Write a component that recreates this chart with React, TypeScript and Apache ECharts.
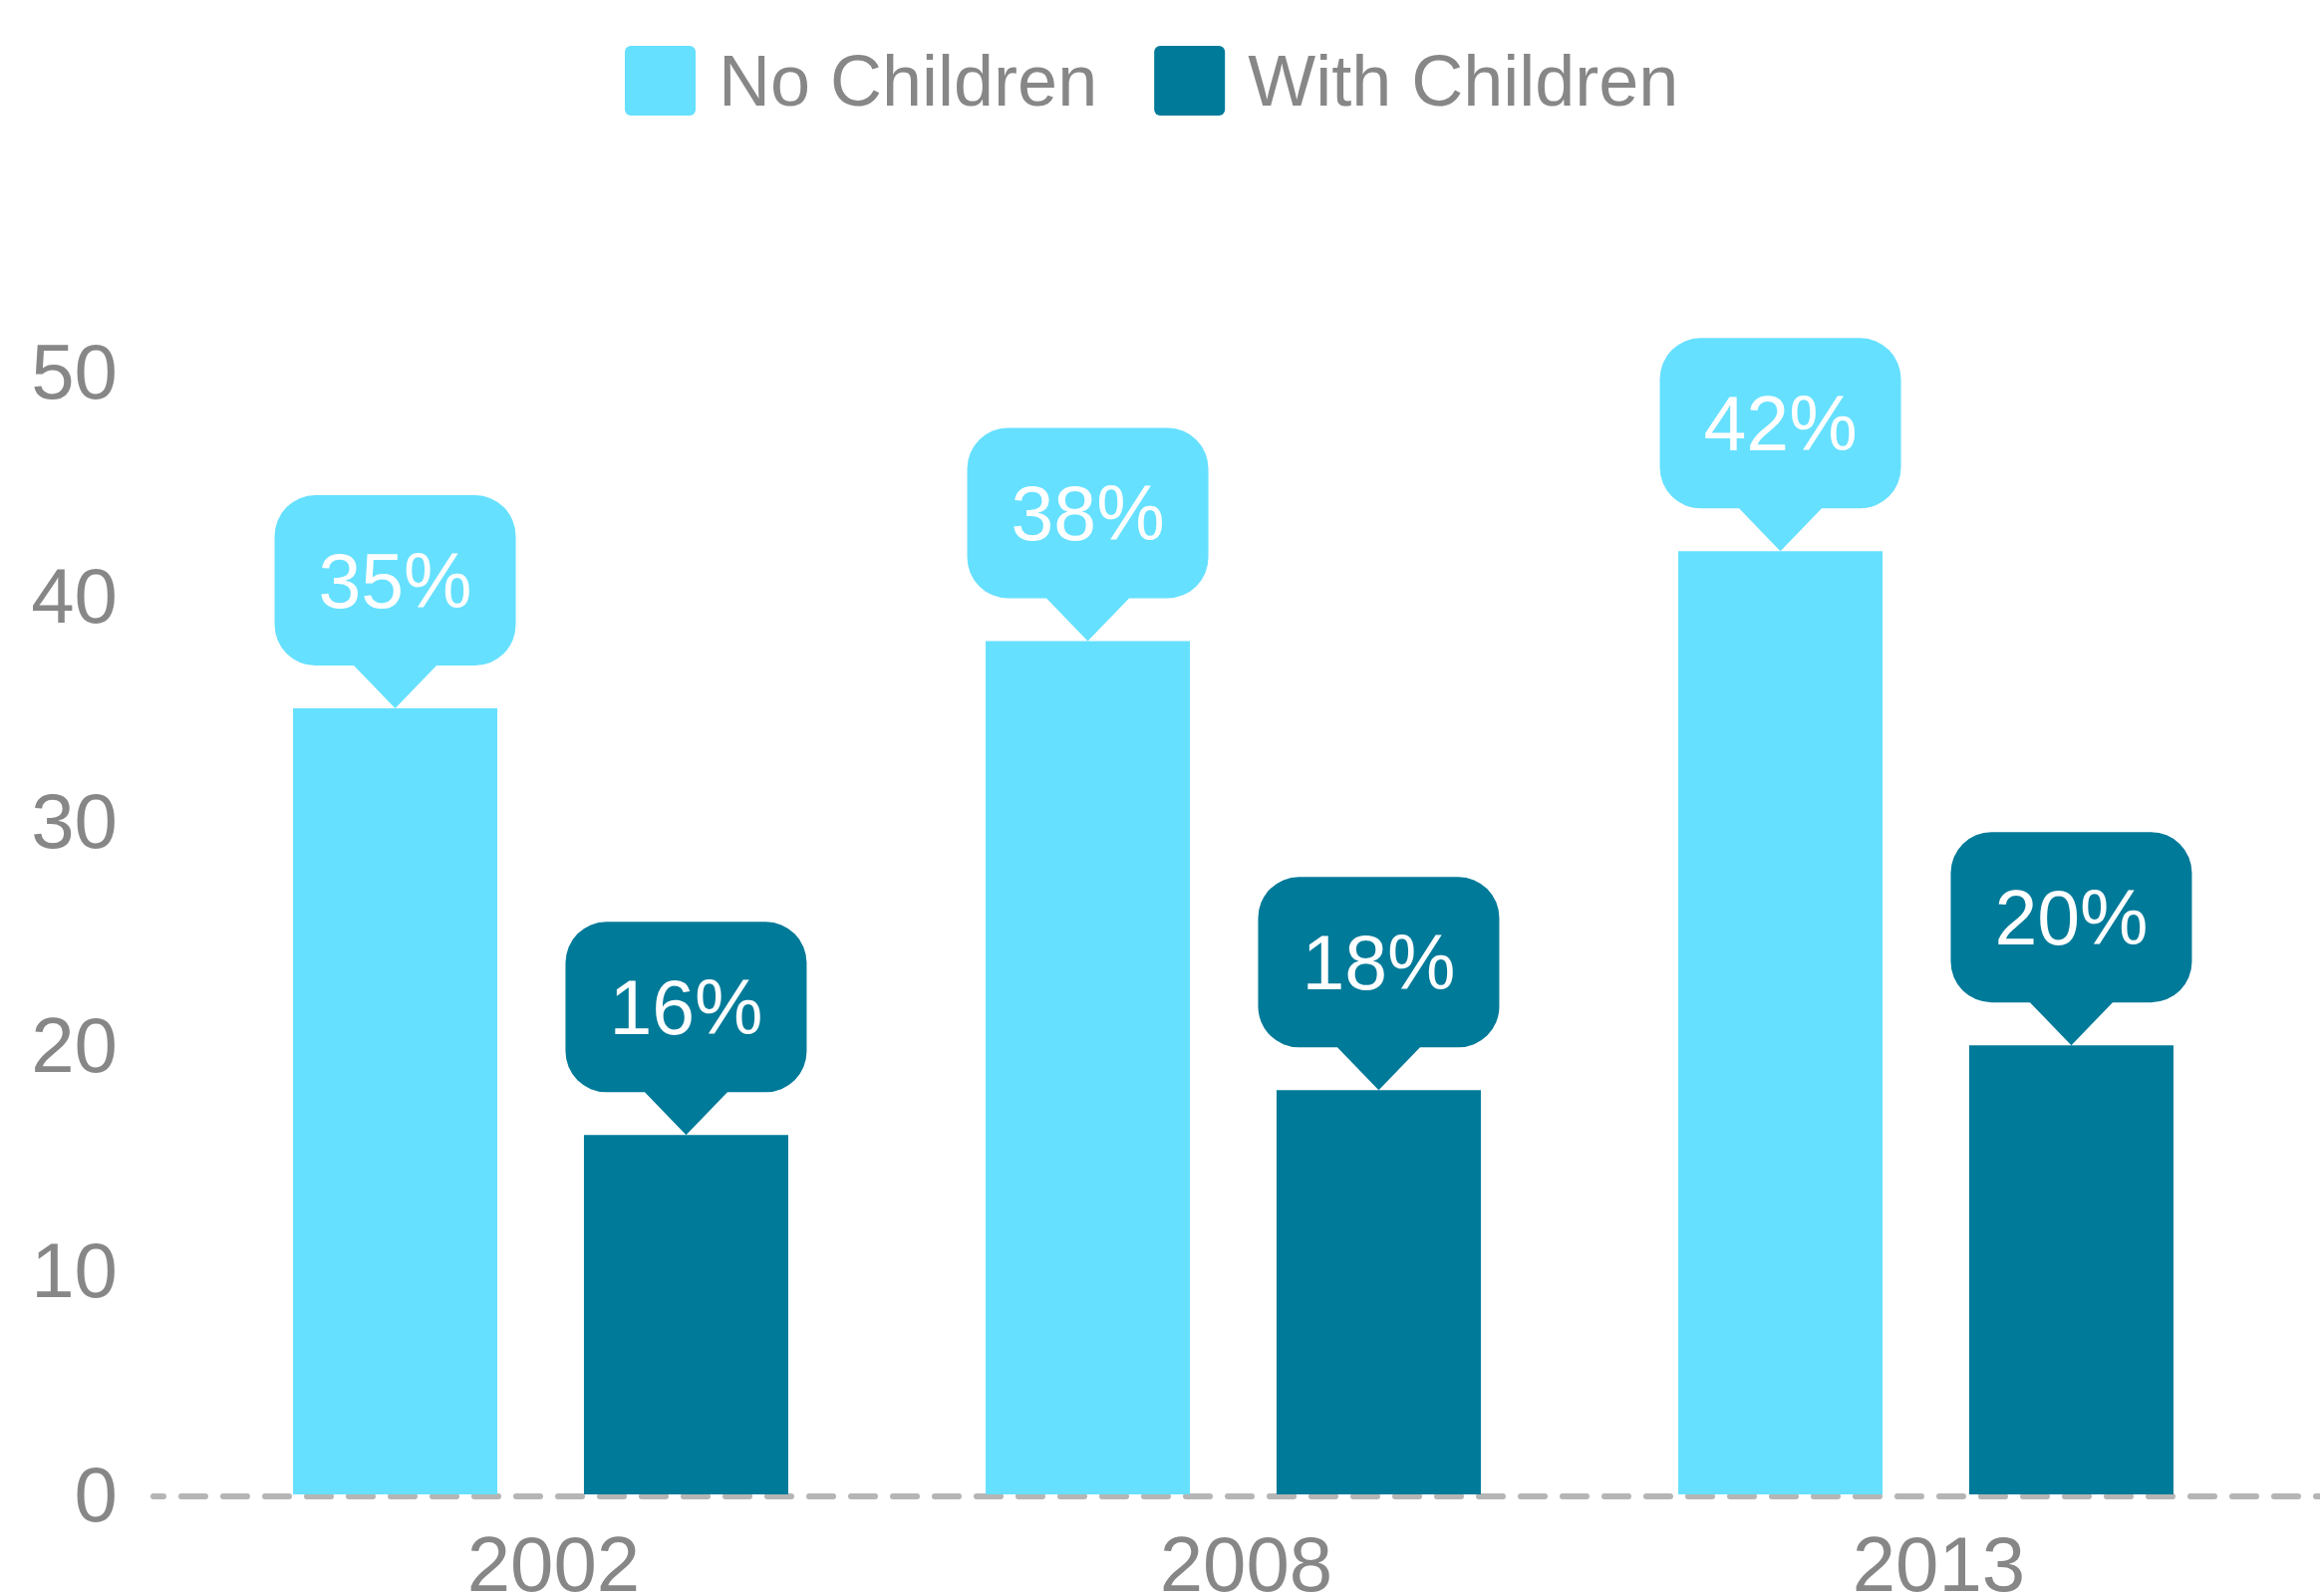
import React, { useEffect, useRef } from "react";
import * as echarts from "echarts";

const categories = ["2002", "2008", "2013"];
const noChildren = [35, 38, 42];
const withChildren = [16, 18, 20];
const seriesNames = ["No Children", "With Children"];
const yTicks = { min: 0, max: 50, interval: 10 };

const LIGHT = "#66e0ff";
const DARK = "#007a99";
const GREY = "#878787";
const FONT = "Liberation Sans, Arial, sans-serif";

const BUBBLE =
  "path://M41 0 H201 A41 41 0 0 1 242 41 V130 A41 41 0 0 1 201 171 H162.5 L121 214 L79.5 171 H41 A41 41 0 0 1 0 130 V41 A41 41 0 0 1 41 0 Z";
const ICON =
  "path://M6 0 H65 A6 6 0 0 1 71 6 V64 A6 6 0 0 1 65 70 H6 A6 6 0 0 1 0 64 V6 A6 6 0 0 1 6 0 Z";

function bubbles(values: number[], color: string) {
  return {
    symbol: BUBBLE,
    symbolSize: [242, 214],
    symbolOffset: [0, "-50%"],
    itemStyle: { color },
    label: {
      show: true,
      position: "inside",
      offset: [0, -21.5],
      formatter: "{c}%",
      color: "#ffffff",
      fontSize: 77,
      fontFamily: FONT,
    },
    data: values.map((v, i) => ({ coord: [i, v], value: v })),
  };
}

export default function App() {
  const ref = useRef<HTMLDivElement>(null);
  useEffect(() => {
    document.body.style.margin = "0";
    const chart = echarts.init(ref.current!, undefined, { renderer: "svg" });
    chart.setOption({
      animation: false,
      backgroundColor: "#ffffff",
      legend: {
        left: 622,
        top: 40,
        itemWidth: 71,
        itemHeight: 70,
        itemGap: 57,
        icon: ICON,
        textStyle: {
          fontSize: 72,
          color: GREY,
          fontFamily: FONT,
          padding: [0, 0, 0, 18],
        },
        data: seriesNames,
      },
      grid: [
        { left: 195, right: 48, top: 373, bottom: 102, outerBoundsMode: "none", containLabel: false },
        { left: 154, right: 0, top: 373, bottom: 100, outerBoundsMode: "none", containLabel: false },
      ],
      xAxis: [
        {
          type: "category",
          gridIndex: 0,
          data: categories,
          axisLine: { show: false },
          axisTick: { show: false },
          axisLabel: {
            fontSize: 78,
            color: GREY,
            fontFamily: FONT,
            margin: 31,
            padding: [0, 0, 0, 26],
          },
        },
        {
          type: "value",
          gridIndex: 1,
          min: 0,
          max: 1,
          axisLine: {
            show: true,
            lineStyle: { color: "#b5b5b5", width: 6, type: [24, 18], dashOffset: 14 },
          },
          axisTick: { show: false },
          axisLabel: { show: false },
          splitLine: { show: false },
        },
      ],
      yAxis: [
        {
          type: "value",
          gridIndex: 0,
          min: yTicks.min,
          max: yTicks.max,
          interval: yTicks.interval,
          axisLine: { show: false },
          axisTick: { show: false },
          splitLine: { show: false },
          axisLabel: { fontSize: 78, color: GREY, fontFamily: FONT, margin: 77 },
        },
        { type: "value", gridIndex: 1, min: 0, max: 1, show: false },
      ],
      series: [
        {
          name: seriesNames[0],
          type: "bar",
          xAxisIndex: 0,
          yAxisIndex: 0,
          barWidth: 205,
          barGap: "42.4%",
          itemStyle: { color: LIGHT },
          data: noChildren,
          z: 3,
          markPoint: bubbles(noChildren, LIGHT),
        },
        {
          name: seriesNames[1],
          type: "bar",
          xAxisIndex: 0,
          yAxisIndex: 0,
          barWidth: 205,
          barGap: "42.4%",
          itemStyle: { color: DARK },
          data: withChildren,
          z: 3,
          markPoint: bubbles(withChildren, DARK),
        },
      ],
    });
    return () => chart.dispose();
  }, []);
  return <div ref={ref} style={{ width: 2328, height: 1602 }} />;
}
